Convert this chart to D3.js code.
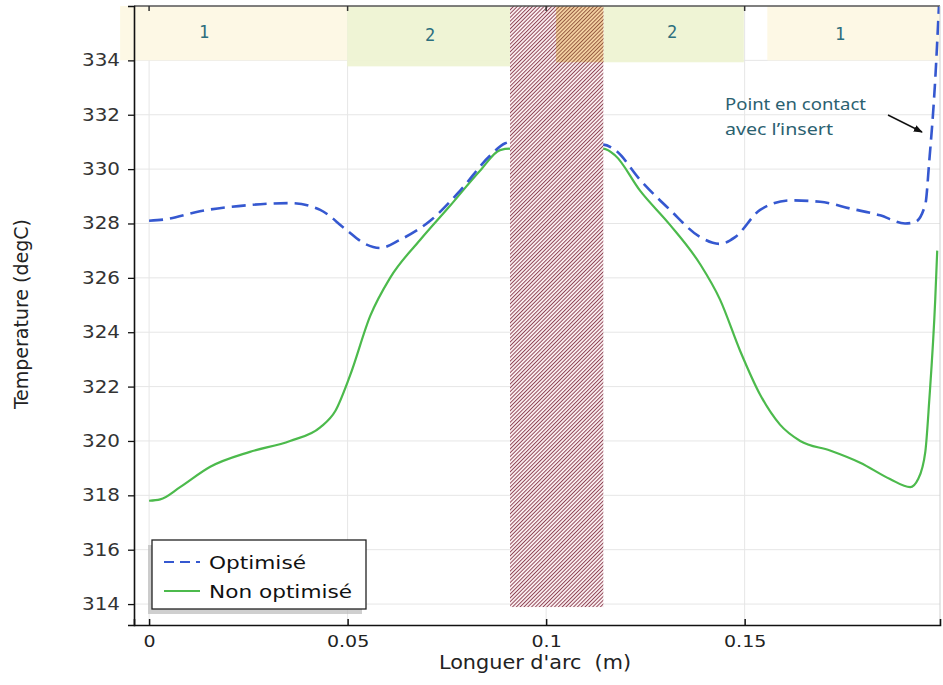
<!DOCTYPE html>
<html><head><meta charset="utf-8">
<script src="https://cdn.jsdelivr.net/npm/d3@7/dist/d3.min.js"></script>
<style>
body{margin:0;background:#fff;}
svg{display:block;}
.cond{font-family:"DejaVu Sans Condensed","Liberation Sans Narrow","Roboto Condensed","DejaVu Sans",sans-serif;font-stretch:condensed;}
</style></head>
<body><svg id="c" width="943" height="685"></svg>
<script>
// ---- data ----
const xTicks = [0, 0.05, 0.1, 0.15];
const xTickLabels = ["0", "0.05", "0.1", "0.15"];
const yTicks = [314, 316, 318, 320, 322, 324, 326, 328, 330, 332, 334];
const seriesNames = ["Optimisé", "Non optimisé"];
// arc length (m) / temperature (degC); the gap is hidden behind the insert
const optX = [0, 0.004, 0.0128, 0.0254, 0.0355, 0.0431, 0.0494, 0.0544, 0.0582, 0.0632, 0.0708, 0.0783, 0.0859, 0.0897, 0.0909,
              0.1144, 0.1174, 0.1237, 0.1312, 0.1388, 0.1438, 0.1476, 0.1539, 0.1615, 0.169, 0.1766, 0.1841, 0.1904, 0.1929, 0.1955, 0.1965, 0.1980, 0.1990];
const optY = [328.1, 328.15, 328.45, 328.68, 328.75, 328.5, 327.8, 327.25, 327.1, 327.4, 328.1, 329.2, 330.5, 330.95, 331.0,
              330.9, 330.7, 329.6, 328.5, 327.5, 327.25, 327.5, 328.5, 328.85, 328.8, 328.55, 328.3, 328.0, 328.05, 328.7, 330.3, 333.3, 336.2];
const nonX = [0, 0.0028, 0.0078, 0.0154, 0.0254, 0.0355, 0.0431, 0.0469, 0.0506, 0.0557, 0.0607, 0.0683, 0.0758, 0.0834, 0.0884, 0.0909,
              0.1144, 0.1174, 0.1237, 0.1312, 0.1388, 0.1438, 0.1489, 0.1539, 0.1589, 0.164, 0.1715, 0.1791, 0.1866, 0.1917, 0.1937, 0.1955, 0.1965, 0.1980, 0.1985];
const nonY = [317.8, 317.85, 318.3, 319.05, 319.6, 320.0, 320.5, 321.1, 322.4, 324.6, 326.0, 327.4, 328.65, 329.95, 330.7, 330.75,
              330.75, 330.5, 329.2, 327.95, 326.5, 325.2, 323.3, 321.7, 320.6, 320.0, 319.65, 319.2, 318.6, 318.3, 318.6, 319.6, 321.5, 325.2, 327.0];
// zones: label, x start, x end, y bottom
const zoneLabels = ["1", "2", "2", "1"];
const zoneX0 = [-0.0073, 0.0499, 0.1144, 0.1557];
const zoneX1 = [0.0499, 0.0909, 0.1498, 0.1992];
const zoneY0 = [334, 333.78, 333.93, 334];
const insertX = [0.0909, 0.1144];
const insertY = [313.89, 336];
const annotation = ["Point en contact", "avec l’insert"];

// ---- layout ----
const svg = d3.select("#c");
const L = 134, R = 940, T = 6, B = 625;
const x = d3.scaleLinear().domain([-0.0038, 0.1992]).range([L, R]);
const y = d3.scaleLinear().domain([313.23, 336]).range([B, T]);

const defs = svg.append("defs");
function hatch(id, bg, fg){
  const s = 2.7;
  const p = defs.append("pattern").attr("id",id).attr("patternUnits","userSpaceOnUse")
    .attr("width",s).attr("height",s).attr("patternTransform","rotate(45)");
  p.append("rect").attr("width",s).attr("height",s).attr("fill",bg);
  p.append("line").attr("x1",0.5).attr("y1",0).attr("x2",0.5).attr("y2",s).attr("stroke",fg).attr("stroke-width",0.9);
}
hatch("hatch","#fbeef0","#86384a");
hatch("hatch2","#f4d2a2","#8e5038");
defs.append("marker").attr("id","arr").attr("viewBox","0 0 10 10").attr("refX",9).attr("refY",5)
  .attr("markerWidth",9).attr("markerHeight",9).attr("orient","auto").attr("markerUnits","userSpaceOnUse")
  .append("path").attr("d","M0,1 L10,5 L0,9 z").attr("fill","#111");

// grid
svg.append("g").selectAll("line").data(xTicks).join("line")
  .attr("x1",d=>x(d)).attr("x2",d=>x(d)).attr("y1",T).attr("y2",B).attr("stroke","#e6e6e6").attr("stroke-width",1);
svg.append("g").selectAll("line").data(yTicks).join("line")
  .attr("x1",L).attr("x2",R).attr("y1",d=>y(d)).attr("y2",d=>y(d)).attr("stroke","#e6e6e6").attr("stroke-width",1);

// zones
const zoneFill = ["#fdf8e4", "#eef3d3", "#eef3d3", "#fdf8e4"];
svg.append("g").selectAll("rect").data(zoneLabels).join("rect")
  .attr("x",(d,i)=>x(zoneX0[i])).attr("width",(d,i)=>x(zoneX1[i])-x(zoneX0[i]))
  .attr("y",y(336)).attr("height",(d,i)=>y(zoneY0[i])-y(336))
  .attr("fill",(d,i)=>zoneFill[i]).attr("opacity",0.95);
svg.append("g").selectAll("text").data(zoneLabels).join("text")
  .attr("x",(d,i)=>[204,430,672,840][i]).attr("y",(d,i)=>[38,41,38,40][i])
  .attr("text-anchor","middle").attr("font-family","DejaVu Sans Mono, monospace").attr("font-size",17)
  .attr("fill","#2d6f7e").text(d=>d);

// lines
const optData = optX.map((v,i)=>[v,optY[i]]);
const nonData = nonX.map((v,i)=>[v,nonY[i]]);
const line = d3.line().x(d=>x(d[0])).y(d=>y(d[1])).curve(d3.curveMonotoneX);
defs.append("clipPath").attr("id","pc").append("rect").attr("x",L).attr("y",T).attr("width",R-L).attr("height",B-T);
const gl = svg.append("g").attr("clip-path","url(#pc)");
gl.append("path").datum(nonData).attr("d",line).attr("fill","none").attr("stroke","#4cba4c").attr("stroke-width",2.2);
gl.append("path").datum(optData).attr("d",line).attr("fill","none").attr("stroke","#3558d0").attr("stroke-width",2.6)
  .attr("stroke-dasharray","14,7");

// insert hatch
svg.append("rect").attr("x",x(insertX[0])).attr("width",x(insertX[1])-x(insertX[0]))
  .attr("y",y(insertY[1])).attr("height",y(insertY[0])-y(insertY[1])).attr("fill","url(#hatch)");
svg.append("rect").attr("x",x(0.1025)).attr("width",x(insertX[1])-x(0.1025))
  .attr("y",y(336)).attr("height",y(333.93)-y(336)).attr("fill","url(#hatch2)");

// frame
svg.append("line").attr("x1",L).attr("x2",R).attr("y1",T).attr("y2",T).attr("stroke","#555").attr("stroke-width",1.5);
svg.append("line").attr("x1",R).attr("x2",R).attr("y1",T).attr("y2",B).attr("stroke","#d0d0d0").attr("stroke-width",1);
svg.append("g").selectAll("line").data(xTicks).join("line")
  .attr("x1",d=>x(d)).attr("x2",d=>x(d)).attr("y1",T).attr("y2",T+5).attr("stroke","#333").attr("stroke-width",1.5);

// axes
const xAxis = svg.append("g").attr("transform",`translate(0,${B})`)
  .call(d3.axisBottom(x).tickValues(xTicks).tickFormat((d,i)=>xTickLabels[i]).tickSize(-6).tickPadding(10));
xAxis.select(".domain").attr("stroke","#111").attr("stroke-width",1.6);
xAxis.selectAll(".tick line").attr("stroke","#111").attr("stroke-width",1.5);
xAxis.selectAll("text").attr("class","cond").attr("font-size",16.5).attr("fill","#222")
  .each(function(){ const w=this.getComputedTextLength(); d3.select(this).attr("textLength",w*1.28).attr("lengthAdjust","spacingAndGlyphs"); });
const yAxis = svg.append("g").attr("transform",`translate(${L},0)`)
  .call(d3.axisLeft(y).tickValues(yTicks).tickSize(6).tickPadding(8));
yAxis.select(".domain").attr("stroke","#111").attr("stroke-width",1.6);
yAxis.selectAll(".tick line").attr("stroke","#111").attr("stroke-width",1.3);
yAxis.selectAll("text").attr("font-family","DejaVu Sans, sans-serif").attr("font-size",17).attr("fill","#333")
  .attr("textLength",38).attr("lengthAdjust","spacingAndGlyphs");

svg.append("text").attr("class","cond").attr("x",535).attr("y",669).attr("text-anchor","middle")
  .attr("font-size",20).attr("fill","#222").attr("textLength",192).attr("lengthAdjust","spacingAndGlyphs")
  .text("Longuer d'arc\u00a0\u00a0(m)");
svg.append("text").attr("class","cond").attr("transform","translate(28,314) rotate(-90)").attr("text-anchor","middle")
  .attr("font-size",19).attr("fill","#222").attr("textLength",190).attr("lengthAdjust","spacingAndGlyphs")
  .text("Temperature (degC)");

// annotation
svg.append("g").selectAll("text").data(annotation).join("text")
  .attr("x",725).attr("y",(d,i)=>110+i*25).attr("font-family","Noto Sans, sans-serif").attr("font-size",16.5)
  .attr("fill","#2b6170").attr("textLength",(d,i)=>[141,108][i]).attr("lengthAdjust","spacingAndGlyphs").text(d=>d);
svg.append("line").attr("x1",888).attr("y1",115).attr("x2",922).attr("y2",132)
  .attr("stroke","#111").attr("stroke-width",1.5).attr("marker-end","url(#arr)");

// legend
const lg = svg.append("g");
lg.append("rect").attr("x",148).attr("y",545).attr("width",214).attr("height",69).attr("fill","#bbb").attr("opacity",0.7);
lg.append("rect").attr("x",152).attr("y",540).attr("width",214).attr("height",69).attr("fill","#fff").attr("stroke","#222").attr("stroke-width",1.3);
lg.append("line").attr("x1",164).attr("x2",200).attr("y1",562).attr("y2",562).attr("stroke","#3558d0").attr("stroke-width",2).attr("stroke-dasharray","10,6");
lg.append("line").attr("x1",164).attr("x2",200).attr("y1",591).attr("y2",591).attr("stroke","#4cba4c").attr("stroke-width",2);
lg.selectAll("text").data(seriesNames).join("text").attr("x",209).attr("y",(d,i)=>569+i*29)
  .attr("font-family","DejaVu Sans, sans-serif").attr("font-size",18.5).attr("fill","#111")
  .attr("textLength",(d,i)=>[97,143][i]).attr("lengthAdjust","spacingAndGlyphs").text(d=>d);
</script></body></html>
